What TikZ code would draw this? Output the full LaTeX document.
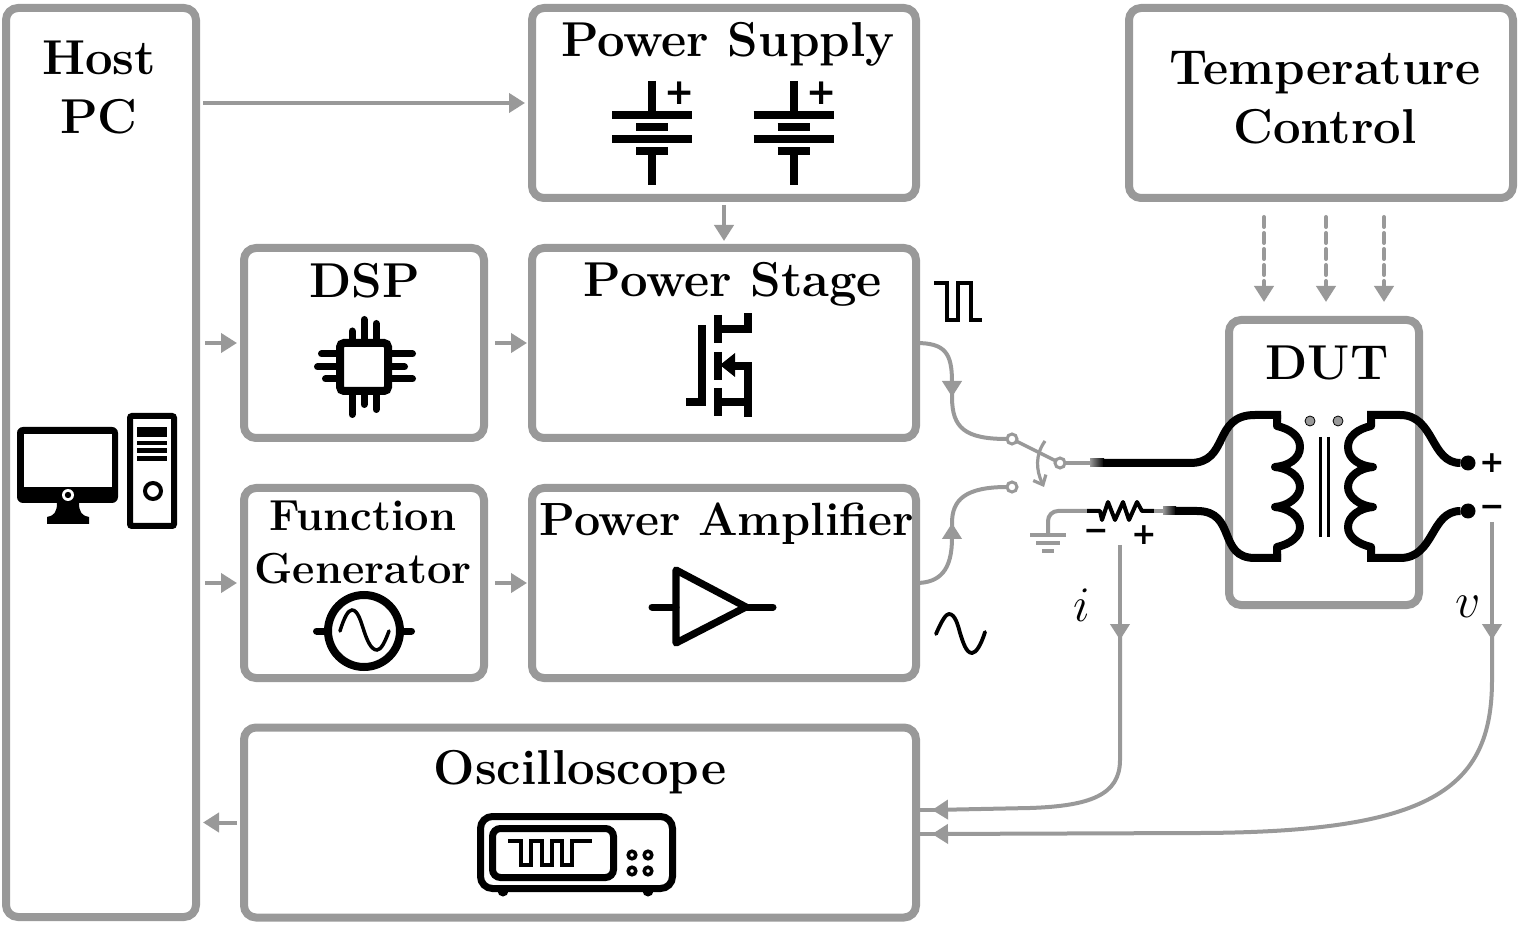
\documentclass[tikz,border=0pt]{standalone}
\usepackage{fontspec}
\usetikzlibrary{arrows.meta}
\newfontfamily\signfont{DejaVu Sans}
\definecolor{boxgray}{HTML}{999999}

\begin{document}
\begin{tikzpicture}[x=0.5pt,y=-0.5pt,node distance=120pt]

        % styles
        \tikzstyle{block} = [rectangle, rounded corners=6pt, minimum width=192pt, minimum height=95pt, outer sep=0pt, inner sep=0pt, draw=boxgray, line width=4pt]
        \tikzstyle{title} = [font=\bfseries\fontsize{24.5}{29.5}\selectfont, align=center, text=black, inner sep=0pt]
        \tikzstyle{sign} = [font=\signfont\bfseries\fontsize{15}{15}\selectfont, inner sep=0pt]
        \tikzstyle{bigsign} = [font=\signfont\bfseries\fontsize{18}{18}\selectfont, inner sep=0pt]
        \tikzstyle{arrow} = [line width=2pt, draw=boxgray, -{Triangle[length=8pt,width=9.5pt]}, shorten <=3.5pt, shorten >=3.5pt]
        \tikzstyle{wire} = [line width=2pt, draw=boxgray]
        \tikzstyle{wiretip} = [wire, -{Triangle[length=8pt,width=9.5pt]}]
        \tikzstyle{heatarrow} = [line width=2pt, draw=boxgray, line cap=round, dash pattern=on 5pt off 3pt, -{Triangle[length=8pt,width=9.5pt]}]
        \tikzstyle{contact} = [circle, draw=boxgray, fill=white, line width=1.5pt, minimum size=5pt, inner sep=0pt, outer sep=0pt]
        \tikzstyle{terminal} = [circle, fill=black, minimum size=7.5pt, inner sep=0pt, outer sep=0pt]
        \tikzstyle{coilwire} = [line width=4pt, draw=black]
        \tikzstyle{icon} = [line width=4pt, draw=black]
        \tikzstyle{pin} = [line width=3.5pt, draw=black, line cap=round]

        \useasboundingbox (0,0) rectangle (1536,940);

        % blocks
        \node (host) [block, minimum width=95pt, minimum height=454.5pt] at (101,462.5) {};
        \node (supply) [block] at (724,103) {};
        \node (stage) [block, below of=supply] {};
        \node (amp) [block, below of=stage] {};
        \node (dsp) [block, minimum width=120pt, left of=stage, node distance=180pt] {};
        \node (gen) [block, minimum width=120pt, left of=amp, node distance=180pt] {};
        \node (scope) [block, minimum width=336pt] at (580,822.5) {};
        \node (temp) [block] at (1321,103) {};
        \node (dut) [block, minimum width=95pt, minimum height=142.5pt] at (1324,462.5) {};

        % titles
        \node (hosttext) [title] at (99,87.5) {Host\\PC};
        \node (supplytext) [title] at (728,44) {Power Supply};
        \node (temptext) [title] at (1325,98) {Temperature\\Control};
        \node (dsptext) [title] at (365,281) {DSP};
        \node (stagetext) [title] at (733,284) {Power Stage};
        \node (gentext) [title, font=\bfseries\fontsize{21.7}{26.5}\selectfont] at (363,542) {Function\\Generator};
        \node (amptext) [title, font=\bfseries\fontsize{23.3}{29.5}\selectfont] at (727,523.5) {Power Amplifier};
        \node (scopetext) [title] at (580,772) {Oscilloscope};
        \node (duttext) [title] at (1327,363) {DUT};

        % host pc icon
        \fill [rounded corners=3pt] (17,427) rectangle (118,503);
        \fill [white] (24,434) rectangle (112,487);
        \fill [white] (68,495) circle (6);
        \fill (68,495) circle (3.2);
        \fill (57,503) .. controls (57,512) and (54,516) .. (47,517) -- (47,524) -- (89,524) -- (89,517) .. controls (82,516) and (79,512) .. (79,503) -- cycle;
        \draw [line width=3pt, rounded corners=1pt] (130,416) rectangle (174,526);
        \fill (137,427) rectangle (167,437);
        \fill (137,441) rectangle (167,445.5);
        \fill (137,448.5) rectangle (167,453);
        \fill (137,456) rectangle (167,461);
        \draw [line width=2pt] (153,491) circle (8);

        % batteries
        \draw [icon] (652,81) -- (652,115);
        \draw [icon] (612,115) -- (692,115);
        \draw [icon] (636,127) -- (668,127);
        \draw [icon] (612,139) -- (692,139);
        \draw [icon] (636,151) -- (668,151);
        \draw [icon] (652,151) -- (652,185);
        \node (plusa) [bigsign] at (680,93) {+};
        \draw [icon] (793.5,81) -- (793.5,115);
        \draw [icon] (753.5,115) -- (833.5,115);
        \draw [icon] (777.5,127) -- (809.5,127);
        \draw [icon] (753.5,139) -- (833.5,139);
        \draw [icon] (777.5,151) -- (809.5,151);
        \draw [icon] (793.5,151) -- (793.5,185);
        \node (plusb) [bigsign] at (821.5,93) {+};

        % chip
        \draw [line width=4pt, rounded corners=2pt] (340,343) rectangle (388,391);
        \draw [pin] (352,339) -- (352,331);
        \draw [pin] (364,339) -- (364,319.5);
        \draw [pin] (376,339) -- (376,323.5);
        \draw [pin] (352,395) -- (352,414.5);
        \draw [pin] (364,395) -- (364,404.5);
        \draw [pin] (376,395) -- (376,409.5);
        \draw [pin] (336,354) -- (321.5,354);
        \draw [pin] (336,367) -- (317.5,367);
        \draw [pin] (336,379) -- (325.5,379);
        \draw [pin] (392,354) -- (412.5,354);
        \draw [pin] (392,367) -- (404.5,367);
        \draw [pin] (392,379) -- (412.5,379);

        % mosfet
        \draw [icon] (686,402) -- (702,402) -- (702,325);
        \draw [icon] (718,315) -- (718,343);
        \draw [icon] (718,352) -- (718,380);
        \draw [icon] (718,388) -- (718,416);
        \draw [icon] (718,329) -- (748,329) -- (748,313);
        \draw [icon] (730,366) -- (748,366) -- (748,417);
        \draw [icon] (718,402) -- (748,402);
        \fill (720,365) -- (735,353) -- (735,377) -- cycle;

        % sine source
        \draw [line width=4pt] (364,631) circle (36);
        \draw [pin] (316.5,631) -- (326,631);
        \draw [pin] (402,631) -- (411.5,631);
        \draw [line width=1.75pt, line cap=round] (340,631) .. controls (344,618) and (348,610) .. (352,610) .. controls (358,610) and (361,622) .. (364,631) .. controls (367,640) and (371,650) .. (377,650) .. controls (381,650) and (385,642) .. (389,631);

        % amplifier
        \draw [line width=3.6pt, line join=round] (676,570) -- (746,607) -- (676,643) -- cycle;
        \draw [pin] (652,607) -- (676,607);
        \draw [pin] (745,607) -- (773,607);

        % oscilloscope
        \draw [line width=3.5pt, rounded corners=6pt] (480.5,816.5) rectangle (672.5,888.5);
        \draw [line width=3.5pt, rounded corners=4pt] (492.5,828.5) rectangle (613.5,877.5);
        \draw [line width=1.75pt] (508,841) -- (521,841) -- (521,865) -- (531,865) -- (531,841) -- (542,841) -- (542,865) -- (552,865) -- (552,841) -- (562,841) -- (562,865) -- (572,865) -- (572,841) -- (592,841);
        \fill (503,891) circle (5.5);
        \fill (648,891) circle (5.5);
        \draw [line width=1.75pt] (632,855) circle (3.8);
        \draw [line width=1.75pt] (648,855) circle (3.8);
        \draw [line width=1.75pt] (632,871) circle (3.8);
        \draw [line width=1.75pt] (648,871) circle (3.8);

        % waveforms
        \draw [line width=1.75pt] (934,283) -- (947,283) -- (947,320) -- (958,320) -- (958,283) -- (971,283) -- (971,320) -- (982,320);
        \draw [line width=1.9pt, line cap=round] (936,634) .. controls (942,620) and (946,614) .. (949,614) .. controls (955,614) and (958,625) .. (960,633) .. controls (963,642) and (966,653) .. (972,653) .. controls (976,653) and (981,645) .. (985,632);

        % switch
        \node (swa) [contact] at (1012,439) {};
        \node (swb) [contact] at (1060,463) {};
        \node (swc) [contact] at (1012,487) {};
        \coordinate (stagetip) at (952,397);
        \coordinate (amptip) at (952,523);
        \draw [wiretip] (stage.east) .. controls (945,343) and (952,353) .. (stagetip);
        \draw [wire] (952,385) -- (stagetip) .. controls (952,428) and (965,439) .. (swa);
        \draw [wiretip] (amp.east) .. controls (940,583) and (952,570) .. (amptip);
        \draw [wire] (952,535) -- (amptip) .. controls (952,500) and (965,487) .. (swc);
        \draw [wire, line width=1.75pt] (swa) -- (swb);
        \draw [line width=1.6pt, draw=boxgray, -{Straight Barb[length=4pt,width=7pt]}] (1045,441) .. controls (1035,455) and (1036,470) .. (1044,487);

        % ground and shunt
        \coordinate (gnd) at (1048,535);
        \coordinate (shuntl) at (1087,511);
        \coordinate (shuntr) at (1154,511);
        \coordinate (fadea) at (1090,463);
        \coordinate (fadeb) at (1163,511);
        \draw [wire, rounded corners=5pt] (gnd) -- (1048,511) -- (shuntl);
        \draw [line width=2pt, draw=boxgray] (1030,535) -- (1066,535);
        \draw [line width=2pt, draw=boxgray] (1036,543) -- (1060,543);
        \draw [line width=2pt, draw=boxgray] (1042,551) -- (1054,551);
        \draw [line width=2pt, line join=round] (shuntl) -- (1100,511) -- (1102,520) -- (1108,502) -- (1115,520) -- (1123,502) -- (1129,520) -- (1137,502) -- (1142,511) -- (shuntr);
        \node (minusi) [sign] at (1096,535) {−};
        \node (plusi) [sign] at (1144,535) {+};

        % leads to the dut
        \draw [wire] (swb) -- (fadea);
        \shade [left color=boxgray, right color=black] (1090,459) rectangle (1104,467);
        \draw [coilwire] (1103,463) -- (1190,463) .. controls (1230,463) and (1212,415) .. (1255,415) -- (1281,415);
        \draw [wire] (shuntr) -- (fadeb);
        \shade [left color=boxgray, right color=black] (1163,507) rectangle (1176,515);
        \draw [coilwire] (1175,511) -- (1197,511) .. controls (1237,511) and (1217,558) .. (1255,558) -- (1281,558);

        % transformer
        \draw [coilwire, line join=round] (1277,415) -- (1277,426) .. controls (1290,429) and (1300,436) .. (1300,447) .. controls (1300,459) and (1288,466) .. (1275,467) .. controls (1288,468) and (1300,476) .. (1300,487) .. controls (1300,497) and (1288,506) .. (1275,507) .. controls (1288,508) and (1300,516) .. (1300,527) .. controls (1300,537) and (1290,544) .. (1277,547) -- (1277,560);
        \draw [coilwire, line join=round] (1371,415) -- (1371,426) .. controls (1358,429) and (1348,436) .. (1348,447) .. controls (1348,459) and (1360,466) .. (1373,467) .. controls (1360,468) and (1348,476) .. (1348,487) .. controls (1348,497) and (1360,506) .. (1373,507) .. controls (1360,508) and (1348,516) .. (1348,527) .. controls (1348,537) and (1358,544) .. (1371,547) -- (1371,560);
        \draw [line width=1.5pt] (1320,437) -- (1320,537);
        \draw [line width=1.5pt] (1328,437) -- (1328,537);
        \draw [fill=boxgray, line width=0.4pt] (1310,421) circle (5);
        \draw [fill=boxgray, line width=0.4pt] (1338,421) circle (5);
        \node (tpos) [terminal] at (1468,463) {};
        \node (tneg) [terminal] at (1468,511) {};
        \draw [coilwire] (1367,415) -- (1400,415) .. controls (1435,415) and (1430,463) .. (tpos);
        \draw [coilwire] (1367,558) -- (1400,558) .. controls (1435,558) and (1430,511) .. (tneg);
        \node (pluso) [sign] at (1492,463) {+};
        \node (minuso) [sign] at (1492,511) {−};

        % control arrows
        \draw [arrow] (host.east |- supply.west) -- (supply.west);
        \draw [arrow] (supply.south) -- (stage.north);
        \draw [arrow, shorten <=4.5pt] (host.east |- dsp.west) -- (dsp.west);
        \draw [arrow, shorten <=5.5pt, shorten >=2.5pt] (dsp.east) -- (stage.west);
        \draw [arrow, shorten <=4.5pt] (host.east |- gen.west) -- (gen.west);
        \draw [arrow, shorten <=5.5pt, shorten >=2.5pt] (gen.east) -- (amp.west);
        \draw [arrow] (scope.west) -- (host.east |- scope.west);

        % temperature arrows
        \coordinate (heata) at (1264,217);
        \coordinate (heatb) at (1326,217);
        \coordinate (heatc) at (1384,217);
        \draw [heatarrow] (heata) -- (1264,302);
        \draw [heatarrow] (heatb) -- (1326,302);
        \draw [heatarrow] (heatc) -- (1384,302);

        % measurements
        \coordinate (senseistart) at (1120,545);
        \coordinate (senseitip) at (1120,640);
        \coordinate (sensevstart) at (1492,522);
        \coordinate (sensevtip) at (1492,640);
        \coordinate (scopei) at (932,810);
        \coordinate (scopev) at (932,834);
        \draw [wiretip] (senseistart) -- (senseitip);
        \draw [wiretip] (1120,628) -- (1120,760) .. controls (1120,795) and (1090,806) .. (1030,808) -- (scopei);
        \draw [wire] (944,810) -- (scope.east |- scopei);
        \draw [wiretip] (sensevstart) -- (sensevtip);
        \draw [wiretip] (1492,628) -- (1492,680) .. controls (1492,790) and (1430,832) .. (1200,833) -- (scopev);
        \draw [wire] (944,834) -- (scope.east |- scopev);
        \node (labeli) [title, font=\fontsize{24.5}{29.5}\selectfont] at (1082,605) {$i$};
        \node (labelv) [title, font=\fontsize{24.5}{29.5}\selectfont] at (1468,607) {$v$};

\end{tikzpicture}
\end{document}
